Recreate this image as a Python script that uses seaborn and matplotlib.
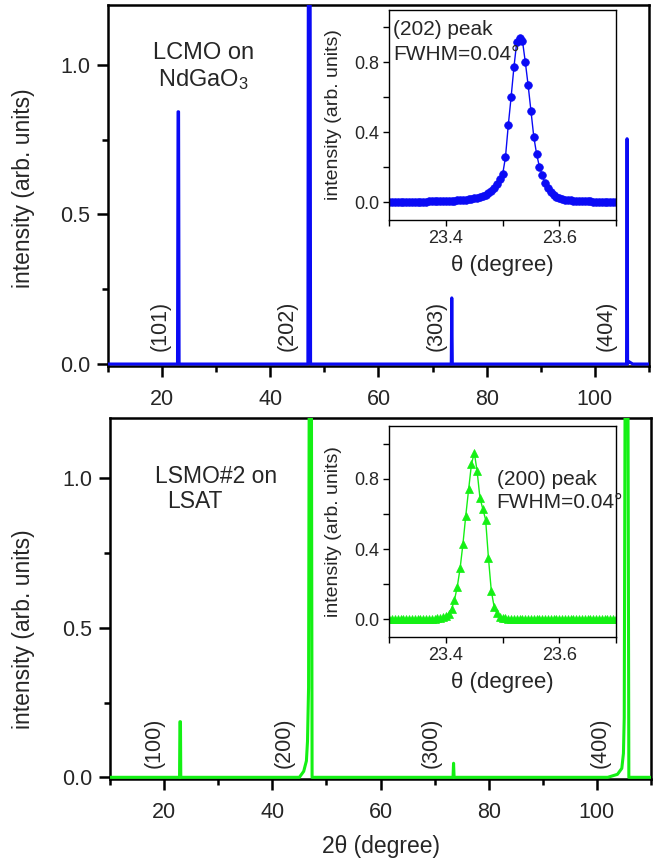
import matplotlib
matplotlib.use("Agg")
import matplotlib.pyplot as plt
import seaborn as sns
from matplotlib.ticker import FixedLocator, FormatStrFormatter

# ---- main 2theta scans (vertices) ----
lcmo_2theta = [10.0, 22.85, 22.95, 23.05, 23.15, 46.95, 47.05, 47.35, 47.45,
               73.45, 73.55, 73.65, 105.85, 105.95, 106.05, 106.3, 107.0, 110.0]
lcmo_int = [0.0, 0.0, 0.843, 0.843, 0.0, 0.0, 1.6, 1.6, 0.0,
            0.0, 0.221, 0.0, 0.0, 0.753, 0.0, 0.008, 0.0, 0.0]

lsmo_2theta = [10.0, 22.85, 22.92, 23.02, 23.08, 45.0, 45.8, 46.3, 46.5, 46.7,
               46.85, 47.2, 47.35, 73.4, 73.5, 73.6, 102.0, 103.8, 104.6, 104.9,
               105.05, 105.25, 105.7, 105.9, 110.0]
lsmo_int = [0.0, 0.0, 0.186, 0.186, 0.0, 0.0, 0.02, 0.055, 0.12, 0.3,
            1.6, 1.6, 0.0, 0.0, 0.047, 0.0, 0.0, 0.01, 0.03, 0.08,
            0.2, 1.6, 1.6, 0.0, 0.0]

# ---- rocking-curve insets ----
inset_theta = [
    23.300, 23.305, 23.310, 23.315, 23.320, 23.325, 23.330, 23.335, 23.340, 23.345,
    23.350, 23.355, 23.360, 23.365, 23.370, 23.375, 23.380, 23.385, 23.390, 23.395,
    23.400, 23.405, 23.410, 23.415, 23.420, 23.425, 23.430, 23.435, 23.440, 23.445,
    23.450, 23.455, 23.460, 23.465, 23.470, 23.475, 23.480, 23.485, 23.490, 23.495,
    23.500, 23.505, 23.510, 23.515, 23.520, 23.525, 23.530, 23.535, 23.540, 23.545,
    23.550, 23.555, 23.560, 23.565, 23.570, 23.575, 23.580, 23.585, 23.590, 23.595,
    23.600, 23.605, 23.610, 23.615, 23.620, 23.625, 23.630, 23.635, 23.640, 23.645,
    23.650, 23.655, 23.660, 23.665, 23.670, 23.675, 23.680, 23.685, 23.690, 23.695,
    23.700]
lcmo_202 = [
    0.004, 0.004, 0.003, 0.004, 0.004, 0.003, 0.004, 0.004, 0.004, 0.005,
    0.004, 0.005, 0.005, 0.005, 0.006, 0.006, 0.006, 0.007, 0.007, 0.008,
    0.008, 0.009, 0.010, 0.011, 0.012, 0.013, 0.014, 0.016, 0.018, 0.020,
    0.023, 0.026, 0.030, 0.036, 0.043, 0.052, 0.064, 0.082, 0.108, 0.135,
    0.160, 0.258, 0.442, 0.603, 0.775, 0.918, 0.937, 0.923, 0.803, 0.670,
    0.523, 0.375, 0.276, 0.203, 0.156, 0.109, 0.080, 0.058, 0.043, 0.033,
    0.026, 0.021, 0.017, 0.014, 0.012, 0.010, 0.009, 0.008, 0.007, 0.007,
    0.006, 0.006, 0.005, 0.005, 0.005, 0.004, 0.004, 0.004, 0.004, 0.004,
    0.004]
lsmo_200 = [
    0.005, 0.005, 0.004, 0.005, 0.005, 0.004, 0.005, 0.005, 0.005, 0.004,
    0.005, 0.005, 0.005, 0.004, 0.005, 0.005, 0.005, 0.006, 0.007, 0.012,
    0.020, 0.033, 0.060, 0.110, 0.186, 0.291, 0.430, 0.590, 0.739, 0.882,
    0.949, 0.843, 0.691, 0.629, 0.567, 0.349, 0.163, 0.072, 0.034, 0.016,
    0.009, 0.007, 0.005, 0.005, 0.005, 0.004, 0.005, 0.005, 0.005, 0.004,
    0.005, 0.005, 0.005, 0.004, 0.005, 0.005, 0.005, 0.004, 0.005, 0.005,
    0.005, 0.004, 0.005, 0.005, 0.005, 0.004, 0.005, 0.005, 0.005, 0.004,
    0.005, 0.005, 0.005, 0.004, 0.005, 0.005, 0.005, 0.004, 0.005, 0.005,
    0.005]

lcmo_labels = ["(101)", "(202)", "(303)", "(404)"]
lcmo_label_x = [19.6, 43.2, 70.7, 102.0]
lsmo_labels = ["(100)", "(200)", "(300)", "(400)"]
lsmo_label_x = [18.1, 42.1, 69.3, 100.6]

BLUE = "#0a0af5"
GREEN = "#14f014"

sns.set_style("ticks")
plt.rcParams["font.family"] = ["Liberation Sans", "DejaVu Sans"]
plt.rcParams["mathtext.default"] = "regular"

fig = plt.figure(figsize=(6.6, 8.58), dpi=100)
ax1 = fig.add_axes([0.1636, 0.574, 0.8197, 0.4202])
ax2 = fig.add_axes([0.1667, 0.0923, 0.8197, 0.4200])
in1 = fig.add_axes([0.5898, 0.7436, 0.3435, 0.2448])
in2 = fig.add_axes([0.5898, 0.2576, 0.3435, 0.2459])


def style_main(ax):
    ax.set_xlim(10, 110)
    ax.set_ylim(-0.005, 1.2)
    ax.xaxis.set_major_locator(FixedLocator([20, 40, 60, 80, 100]))
    ax.xaxis.set_minor_locator(FixedLocator([10, 30, 50, 70, 90, 110]))
    ax.yaxis.set_major_locator(FixedLocator([0.0, 0.5, 1.0]))
    ax.yaxis.set_minor_locator(FixedLocator([0.25, 0.75]))
    ax.yaxis.set_major_formatter(FormatStrFormatter("%.1f"))
    ax.tick_params(which="major", direction="out", length=8, width=1.8,
                   labelsize=15.5, color="black")
    ax.tick_params(axis="x", which="major", pad=9)
    ax.tick_params(axis="y", which="major", pad=5)
    ax.tick_params(which="minor", direction="out", length=4.5, width=1.8, color="black")
    for s in ax.spines.values():
        s.set_linewidth(1.8)
        s.set_color("black")
    ax.set_xlabel("")
    ax.set_ylabel("intensity (arb. units)", fontsize=16.5)


def style_inset(ax):
    ax.set_facecolor("white")
    ax.set_xlim(23.3, 23.7)
    ax.set_ylim(-0.1, 1.1)
    ax.xaxis.set_major_locator(FixedLocator([23.4, 23.6]))
    ax.xaxis.set_minor_locator(FixedLocator([23.3, 23.5, 23.7]))
    ax.yaxis.set_major_locator(FixedLocator([0.0, 0.4, 0.8]))
    ax.yaxis.set_minor_locator(FixedLocator([0.2, 0.6, 1.0]))
    ax.yaxis.set_major_formatter(FormatStrFormatter("%.1f"))
    ax.tick_params(which="both", direction="out", length=4, width=1.0,
                   labelsize=13, pad=3, color="black")
    for s in ax.spines.values():
        s.set_linewidth(1.0)
        s.set_color("black")
    ax.set_xlabel(r"θ (degree)", fontsize=16)
    ax.set_ylabel("intensity (arb. units)", fontsize=14)
    ax.xaxis.set_label_coords(0.5, -0.165)
    ax.yaxis.set_label_coords(-0.21, 0.5)


# top panel: LCMO on NdGaO3
sns.lineplot(x=lcmo_2theta, y=lcmo_int, ax=ax1, color=BLUE, lw=2.2,
             sort=False, estimator=None, zorder=3)
style_main(ax1)
ax1.yaxis.set_label_coords(-0.135, 0.491)
ax1.text(27.6, 1.02, "LCMO on", fontsize=17, ha="center", va="baseline")
ax1.text(27.6, 0.93, r"NdGaO$_3$", fontsize=17, ha="center", va="baseline")
for lab, xx in zip(lcmo_labels, lcmo_label_x):
    ax1.text(xx, 0.045, lab, rotation=90, ha="center", va="bottom", fontsize=15.5)

# bottom panel: LSMO#2 on LSAT
sns.lineplot(x=lsmo_2theta, y=lsmo_int, ax=ax2, color=GREEN, lw=2.2,
             sort=False, estimator=None, zorder=3)
style_main(ax2)
ax2.yaxis.set_label_coords(-0.139, 0.416)
ax2.set_xlabel(r"2θ (degree)", fontsize=16.5)
ax2.xaxis.set_label_coords(0.5, -0.155)
ax2.text(18.3, 0.983, "LSMO#2 on", fontsize=16.5, ha="left", va="baseline")
ax2.text(20.5, 0.90, "LSAT", fontsize=16.5, ha="left", va="baseline")
for lab, xx in zip(lsmo_labels, lsmo_label_x):
    ax2.text(xx, 0.03, lab, rotation=90, ha="center", va="bottom", fontsize=15.5)

# insets
sns.lineplot(x=inset_theta, y=lcmo_202, ax=in1, color=BLUE, lw=1.0,
             marker="o", markersize=5.5, markeredgecolor=BLUE, markeredgewidth=0.5,
             sort=False, estimator=None)
style_inset(in1)
in1.text(0.018, 0.881, "(202) peak", transform=in1.transAxes, fontsize=15, va="baseline")
in1.text(0.018, 0.762, "FWHM=0.04°", transform=in1.transAxes, fontsize=15, va="baseline")

sns.lineplot(x=inset_theta, y=lsmo_200, ax=in2, color=GREEN, lw=1.0,
             marker="^", markersize=6, markeredgecolor=GREEN, markeredgewidth=0.5,
             sort=False, estimator=None)
style_inset(in2)
in2.text(0.474, 0.72, "(200) peak", transform=in2.transAxes, fontsize=15, va="baseline")
in2.text(0.474, 0.61, "FWHM=0.04°", transform=in2.transAxes, fontsize=15, va="baseline")

fig.savefig("out.png", dpi=100)
